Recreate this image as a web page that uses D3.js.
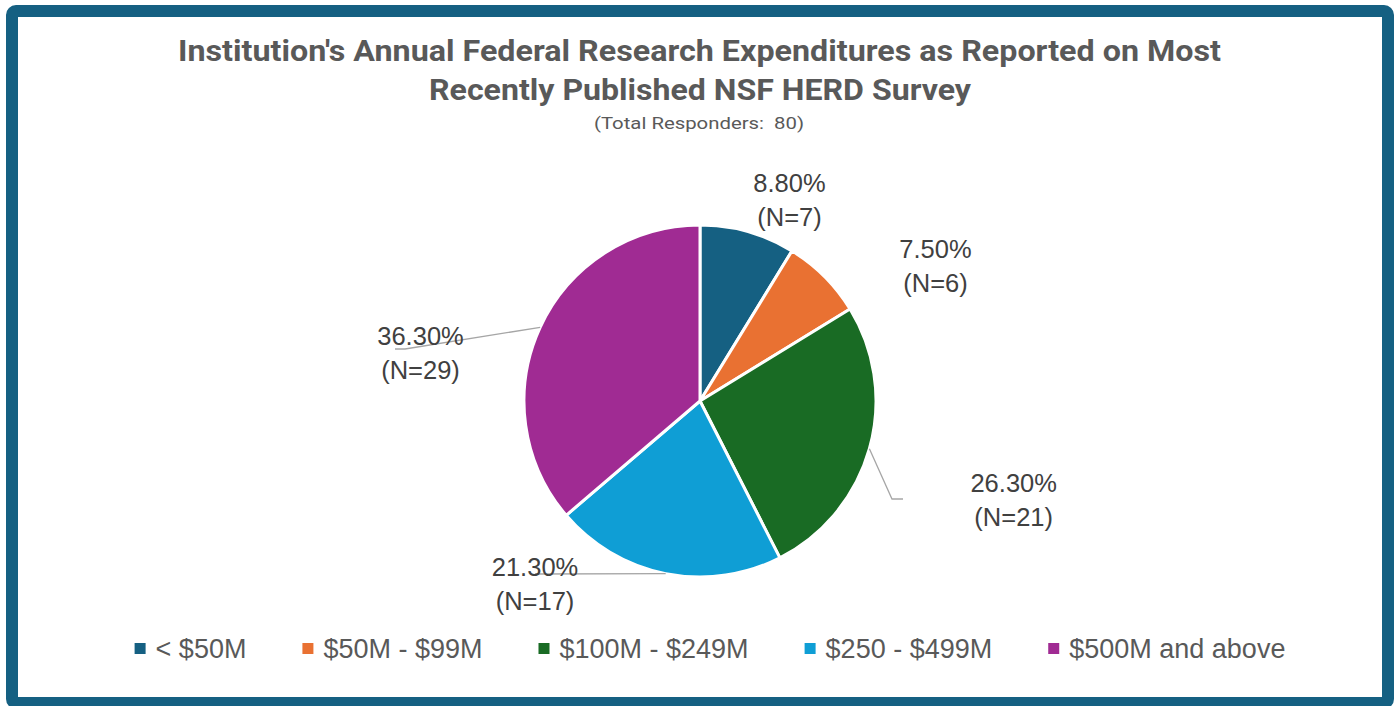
<!DOCTYPE html>
<html><head><meta charset="utf-8">
<script src="https://cdn.jsdelivr.net/npm/d3@7"></script>
<style>body{margin:0;background:#fff}svg{display:block}</style>
</head><body>
<script>
const categories = ["< $50M", "$50M - $99M", "$100M - $249M", "$250 - $499M", "$500M and above"];
const counts = [7, 6, 21, 17, 29];
const percentLabels = ["8.80%", "7.50%", "26.30%", "21.30%", "36.30%"];
const colors = ["#156082", "#E97132", "#196B24", "#0F9ED5", "#A02B93"];
const titleLines = ["Institution's Annual Federal Research Expenditures as Reported on Most", "Recently Published NSF HERD Survey"];
const subtitle = "(Total Responders:  80)";

const W = 1395, H = 706;
const svg = d3.select("body").append("svg").attr("width", W).attr("height", H);

// frame
svg.append("rect").attr("x", 12).attr("y", 11).attr("width", 1376).attr("height", 692)
  .attr("rx", 4).attr("fill", "#fff").attr("stroke", "#156082").attr("stroke-width", 12);

// titles
const tf = "Roboto, 'Liberation Sans', sans-serif";
svg.append("text").attr("x", 699.5).attr("y", 61).attr("text-anchor", "middle")
  .attr("font-family", tf).attr("font-weight", 700).attr("font-size", 29).attr("fill", "#595959")
  .attr("textLength", 1043).attr("lengthAdjust", "spacingAndGlyphs").text(titleLines[0]);
svg.append("text").attr("x", 700).attr("y", 100).attr("text-anchor", "middle")
  .attr("font-family", tf).attr("font-weight", 700).attr("font-size", 29).attr("fill", "#595959")
  .attr("textLength", 542).attr("lengthAdjust", "spacingAndGlyphs").text(titleLines[1]);
svg.append("text").attr("x", 699).attr("y", 129).attr("text-anchor", "middle")
  .style("white-space", "pre")
  .attr("font-family", tf).attr("font-size", 16).attr("fill", "#595959")
  .attr("textLength", 210).attr("lengthAdjust", "spacingAndGlyphs").text(subtitle);

// pie
const cx = 700, cy = 401, R = 176;
const pie = d3.pie().sort(null).value(d => d)(counts);
const arc = d3.arc().innerRadius(0).outerRadius(R);
const edge = d3.arc().innerRadius(R).outerRadius(R);
const g = svg.append("g").attr("transform", `translate(${cx},${cy})`);
g.selectAll("path.slice").data(pie).join("path").attr("class", "slice")
  .attr("d", arc).attr("fill", (d, i) => colors[i])
  .attr("stroke", "#fff").attr("stroke-width", 3).attr("stroke-linejoin", "round");

// label layout (manual placement like the original)
const labelPos = [[89.5, -209], [235.5, -143], [313.7, 91], [-165, 175], [-279.5, -56]];
const leaderPts = [null, null, [[192, 98], [203, 98]], [[-165, 173]], [[-295, -52], [-305, -52]]];

pie.forEach((d, i) => {
  if (leaderPts[i]) {
    const c = edge.centroid(d);
    const pts = [c].concat(leaderPts[i]);
    g.append("path").attr("d", d3.line()(pts)).attr("fill", "none")
      .attr("stroke", "#a6a6a6").attr("stroke-width", 1.3);
  }
});
pie.forEach((d, i) => {
  const [lx, ly] = labelPos[i];
  const t = g.append("text").attr("text-anchor", "middle")
    .attr("font-family", "'Liberation Sans', Arial, sans-serif").attr("font-size", 25.5).attr("fill", "#404040");
  t.append("tspan").attr("x", lx).attr("y", ly).text(percentLabels[i]);
  t.append("tspan").attr("x", lx).attr("y", ly + 34).text(`(N=${counts[i]})`);
});

// legend
const lg = svg.append("g");
const sq = 11, gapT = 10, gapI = 56;
let x = 0;
categories.forEach((c, i) => {
  const it = lg.append("g").attr("transform", `translate(${x},0)`);
  it.append("rect").attr("x", 0).attr("y", -6).attr("width", sq).attr("height", sq).attr("fill", colors[i]);
  const tx = it.append("text").attr("x", sq + gapT).attr("y", 9)
    .attr("font-family", "'Liberation Sans', Arial, sans-serif").attr("font-size", 27).attr("fill", "#595959").text(c);
  x += sq + gapT + tx.node().getComputedTextLength() + gapI;
});
const total = x - gapI;
lg.attr("transform", `translate(${710 - total / 2},649)`);
</script>
</body></html>
